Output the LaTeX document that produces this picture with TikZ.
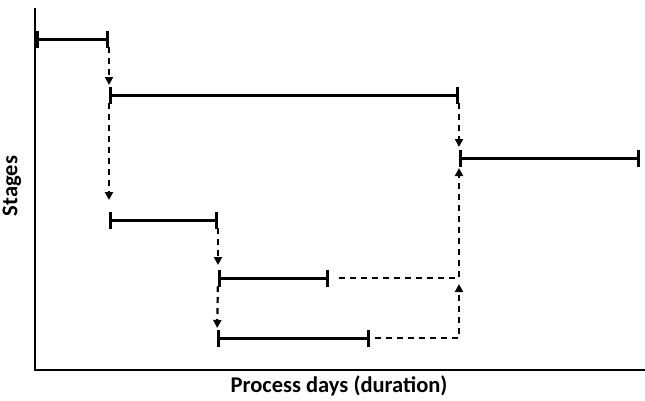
\documentclass[tikz,border=0pt]{standalone}
\usepackage{fontspec}
\setmainfont{Carlito}
\usetikzlibrary{arrows.meta}

\tikzset{
	axis/.style={line width=2.4pt},
	bar/.style={line width=3pt, {Bar[width=17pt,line width=3pt]}-{Bar[width=17pt,line width=3pt]}},
	link/.style={line width=2.2pt, dash pattern=on 6pt off 5pt, -{Triangle[width=8pt,length=8pt]}},
	lbl/.style={font=\fontsize{22.5}{26}\selectfont\bfseries}
}

\begin{document}
\begin{tikzpicture}[x=1pt, y=-1pt]
	\useasboundingbox (0,0) rectangle (645,400);

	% axes
	\coordinate (top) at (35,8);
	\coordinate (origin) at (35,370);
	\coordinate (right) at (645,370);
	\draw[axis] (top) -- (origin) -- (right);
	\node[lbl, rotate=90] (ylabel) at (12,186) {Stages};
	\node[lbl] (xlabel) at (339,386) {Process days (duration)};

	% stages: start and end of each bar
	\coordinate (s1a) at (36,39);   \coordinate (s1b) at (109,39);
	\coordinate (s2a) at (109,95);  \coordinate (s2b) at (459,95);
	\coordinate (s3a) at (459,158); \coordinate (s3b) at (640,158);
	\coordinate (s4a) at (109,220); \coordinate (s4b) at (218,220);
	\coordinate (s5a) at (218,278); \coordinate (s5b) at (329,278);
	\coordinate (s6a) at (217,338); \coordinate (s6b) at (370,338);

	\foreach \s in {1,...,6}
		\draw[bar] (s\s a) -- (s\s b);

	% links between stages
	\draw[link, shorten <=8pt, shorten >=10pt] (s1b) -- (s2a);
	\draw[link, shorten <=8pt, shorten >=20pt] (s2a) -- (s4a);
	\draw[link, shorten <=8pt, shorten >=13pt] (s4b) -- (s5a);
	\draw[link, shorten <=8pt, shorten >=10pt] (s5a) -- (s6a);
	\draw[link, shorten <=8pt, shorten >=11pt] (s2b) -- (s3a);
	\draw[link, shorten <=10pt, shorten >=10pt] (s5b) -- (s5b -| s3a) -- (s3a);
	\draw[link, shorten <=5pt, shorten >=6pt] (s6b) -- (s6b -| s3a) -- (s5b -| s3a);

\end{tikzpicture}
\end{document}
